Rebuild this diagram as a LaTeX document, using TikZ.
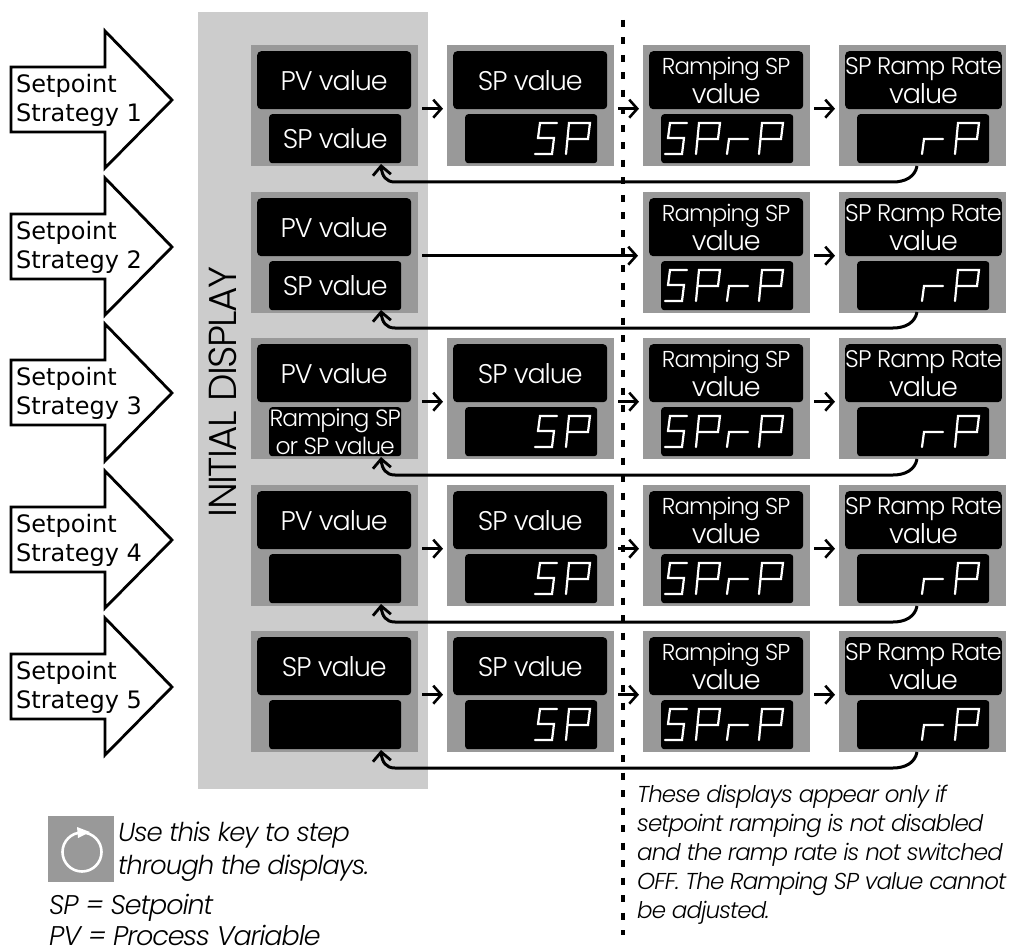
\documentclass[tikz,border=0pt]{standalone}
\usepackage{fontspec}
\setmainfont[LetterSpace=-4]{Poppins Light}
\newfontfamily\arrowfont{DejaVu Sans}
\usetikzlibrary{arrows.meta,calc}
\definecolor{panel}{gray}{0.80}
\definecolor{frame}{gray}{0.60}
\tikzset{
  x=1pt,y=-1pt,
  outerbox/.style={fill=frame,draw=none,minimum width=167pt,minimum height=121pt,inner sep=0pt,anchor=north west},
  topscreen/.style={fill=black,draw=none,rounded corners=4pt,minimum width=154pt,minimum height=58pt,inner sep=0pt,text=white,align=center,font=\fontsize{27}{29}\selectfont,anchor=north west},
  botscreen/.style={fill=black,draw=none,rounded corners=3pt,minimum width=132pt,minimum height=49pt,inner sep=0pt,text=white,align=center,font=\fontsize{27}{29}\selectfont,anchor=north west},
  seg/.style={draw=white,line width=2.2pt,line cap=round},
  flow/.style={draw=black,line width=2.8pt,-{Straight Barb[length=8pt,width=18pt,line width=2.6pt]}},
  back/.style={draw=black,line width=3pt,-{Straight Barb[length=9pt,width=18pt,line width=2.8pt]}},
  strat/.style={draw=black,line width=2.8pt,fill=white,line join=miter},
  strattext/.style={font=\arrowfont\fontsize{24}{29}\selectfont,align=left,anchor=west,inner sep=0pt},
  remark/.style={font=\fontsize{23}{29}\selectfont\itshape,align=left,anchor=north west,inner sep=0pt}
}
% seven-segment letters: #1 = left of baseline, #2 = baseline y
\newcommand{\segS}[2]{\draw[seg] ({#1+22},{#2-31}) -- ({#1+5},{#2-31}) -- ({#1+3},{#2-16}) -- ({#1+19},{#2-16}) -- ({#1+17},{#2}) -- ({#1},{#2});}
\newcommand{\segP}[2]{\draw[seg] ({#1},{#2}) -- ({#1+3},{#2-31}) -- ({#1+24},{#2-31}) -- ({#1+22},{#2-15}) -- ({#1+2},{#2-15});}
\newcommand{\segR}[2]{\draw[seg] ({#1},{#2}) -- ({#1+2},{#2-15}) -- ({#1+21},{#2-15});}
\newcommand{\screens}[6]{%
  \node[outerbox] (#1a) at (#2,#3) {};
  \node[topscreen] (#1t) at ({#2+6},{#3+6}) {#4};
  \node[botscreen] (#1b) at ({#2+#6},{#3+69}) {#5};
}
\begin{document}
\begin{tikzpicture}
\useasboundingbox (0,0) rectangle (1017,952);
\fill[panel] (198,12) rectangle (428,789);
% divider
\coordinate (divtop) at (623,20);
\coordinate (divbot) at (623,935);
\draw[line width=3.5pt,dash pattern=on 7pt off 10.5pt] (divtop) -- (divbot);
% strategy arrows
\foreach \n/\y/\lab in {1/0/1,2/147/2,3/293/3,4/440/4,5/587/5}{
  \draw[strat] (11,{67+\y}) -- (105,{67+\y}) -- (105,{31+\y}) -- (172,{100+\y}) -- (105,{168+\y}) -- (105,{132+\y}) -- (11,{132+\y}) -- cycle;
  \node[strattext] (strat\n) at (16,{100+\y}) {Setpoint\\Strategy \lab};
}
% rows
\foreach \r/\y/\pv in {1/45/{PV value},2/192/{PV value},3/338/{PV value},4/485/{PV value},5/631/{SP value}}{
  \screens{r\r c1}{251}{\y}{\pv}{}{18}
  \screens{r\r c3}{643}{\y}{\fontsize{23}{30}\selectfont Ramping SP\\value}{}{18}
  \screens{r\r c4}{839}{\y}{\fontsize{24}{30}\selectfont SP Ramp Rate\\value}{}{18}
  \segS{665}{\y+109} \segP{696}{\y+109} \segR{727}{\y+109} \segP{759}{\y+109}
  \segR{922}{\y+109} \segP{955}{\y+109}
}
\foreach \r/\y in {1/45,3/338,4/485,5/631}{
  \screens{r\r c2}{447}{\y}{SP value}{}{18}
  \segS{535}{\y+109} \segP{566}{\y+109}
}
% first-column lower screens' text
\node[text=white,font=\fontsize{27}{29}\selectfont] (v1) at (r1c1b) {SP value};
\node[text=white,font=\fontsize{27}{29}\selectfont] (v2) at (r2c1b) {SP value};
\node[text=white,align=center,font=\fontsize{23.5}{28}\selectfont] (v3) at (r3c1b) {Ramping SP\\or SP value};
% flow arrows
\foreach \r in {1,3,4,5}{
  \draw[flow,shorten <=4pt,shorten >=4pt] ([yshift=-3pt]r\r c1a.east) -- ([yshift=-3pt]r\r c2a.west);
  \draw[flow,shorten <=4pt,shorten >=4pt] ([yshift=-3pt]r\r c2a.east) -- ([yshift=-3pt]r\r c3a.west);
}
\foreach \r in {1,2,3,4,5}{
  \draw[flow,shorten <=4pt,shorten >=4pt] ([yshift=-3pt]r\r c3a.east) -- ([yshift=-3pt]r\r c4a.west);
}
\draw[flow,shorten <=4pt,shorten >=5pt] ([yshift=-3pt]r2c1a.east) -- ([yshift=-3pt]r2c3a.west);
% feedback arrows
\foreach \r/\y in {1/182,2/328,3/475,4/622,5/768}{
  \coordinate (fbstart\r) at (917,{\y-16});
  \coordinate (fbend\r) at (381,{\y-18});
  \draw[back] (fbstart\r) .. controls (915,{\y-5}) and (905,\y) .. (893,\y) -- (395,\y) .. controls (386,\y) and (382,{\y-6}) .. (fbend\r);
}
% INITIAL DISPLAY
\node[rotate=90,font=\fontsize{39}{39}\selectfont] (initial) at (222.5,392) {INITIAL DISPLAY};
% key
\node[fill=frame,minimum size=66pt,inner sep=0pt] (keybox) at (81,849) {};
\draw[white,line width=2.6pt] (82,852) circle (19.5pt);
\fill[white] (77,827) -- (90,832) -- (78,838) -- cycle;
\node[remark,font=\fontsize{26}{33}\selectfont\itshape] (keytext) at (118,822) {Use this key to step\\through the displays.};
\node[remark,font=\fontsize{27}{31}\selectfont\itshape] (abbr) at (49,894) {SP = Setpoint\\PV = Process Variable};
\node[remark] (note) at (637,785) {These displays appear only if\\setpoint ramping is not disabled\\and the ramp rate is not switched\\OFF. The Ramping SP value cannot\\be adjusted.};
\end{tikzpicture}
\end{document}
